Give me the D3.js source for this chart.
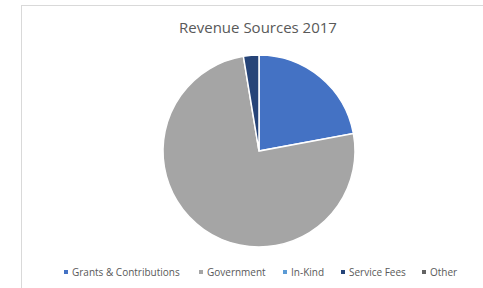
<!DOCTYPE html>
<html>
<head>
<meta charset="utf-8">
<script src="https://cdn.jsdelivr.net/npm/d3@7"></script>
<style>
  body { margin: 0; background: #fff; }
  svg { display: block; font-family: "Open Sans", "Liberation Sans", sans-serif; }
</style>
</head>
<body>
<div id="chart"></div>
<script>
const categories = ["Grants & Contributions", "Government", "In-Kind", "Service Fees", "Other"];
const shares = [22.1, 75.3, 0, 2.6, 0];
const colors = ["#4472C4", "#A5A5A5", "#5B9BD5", "#264478", "#636363"];
const title = "Revenue Sources 2017";

const width = 483, height = 288;
const svg = d3.select("#chart").append("svg")
    .attr("width", width)
    .attr("height", height);

// chart area frame (only top and left are visible in the crop)
svg.append("rect")
    .attr("x", 21.5).attr("y", 5.5)
    .attr("width", 480).attr("height", 300)
    .attr("fill", "#fff")
    .attr("stroke", "#d9d9d9")
    .attr("stroke-width", 1);

svg.append("text")
    .attr("x", 258)
    .attr("y", 33)
    .attr("text-anchor", "middle")
    .attr("font-size", "15px")
    .attr("fill", "#595959")
    .text(title);

const cx = 259, cy = 151, r = 96;
const pie = d3.pie().sort(null).value(d => d);
const arc = d3.arc().innerRadius(0).outerRadius(r);

const g = svg.append("g").attr("transform", "translate(" + cx + "," + cy + ")");
g.selectAll("path")
    .data(pie(shares))
    .enter().append("path")
    .attr("d", arc)
    .attr("fill", (d, i) => colors[i])
    .attr("stroke", "#fff")
    .attr("stroke-width", d => d.value > 0 ? 1.5 : 0);

// legend
const legendX = [66, 201, 285, 343, 424];
const legend = svg.append("g").attr("transform", "translate(0,272)");
const items = legend.selectAll("g")
    .data(categories)
    .enter().append("g")
    .attr("transform", (d, i) => "translate(" + legendX[i] + ",0)");
items.append("rect")
    .attr("x", -2).attr("y", -2)
    .attr("width", 4).attr("height", 4)
    .attr("fill", (d, i) => colors[i]);
items.append("text")
    .attr("x", 6)
    .attr("y", 3.5)
    .attr("font-size", "10px")
    .attr("fill", "#595959")
    .text(d => d);
</script>
</body>
</html>
